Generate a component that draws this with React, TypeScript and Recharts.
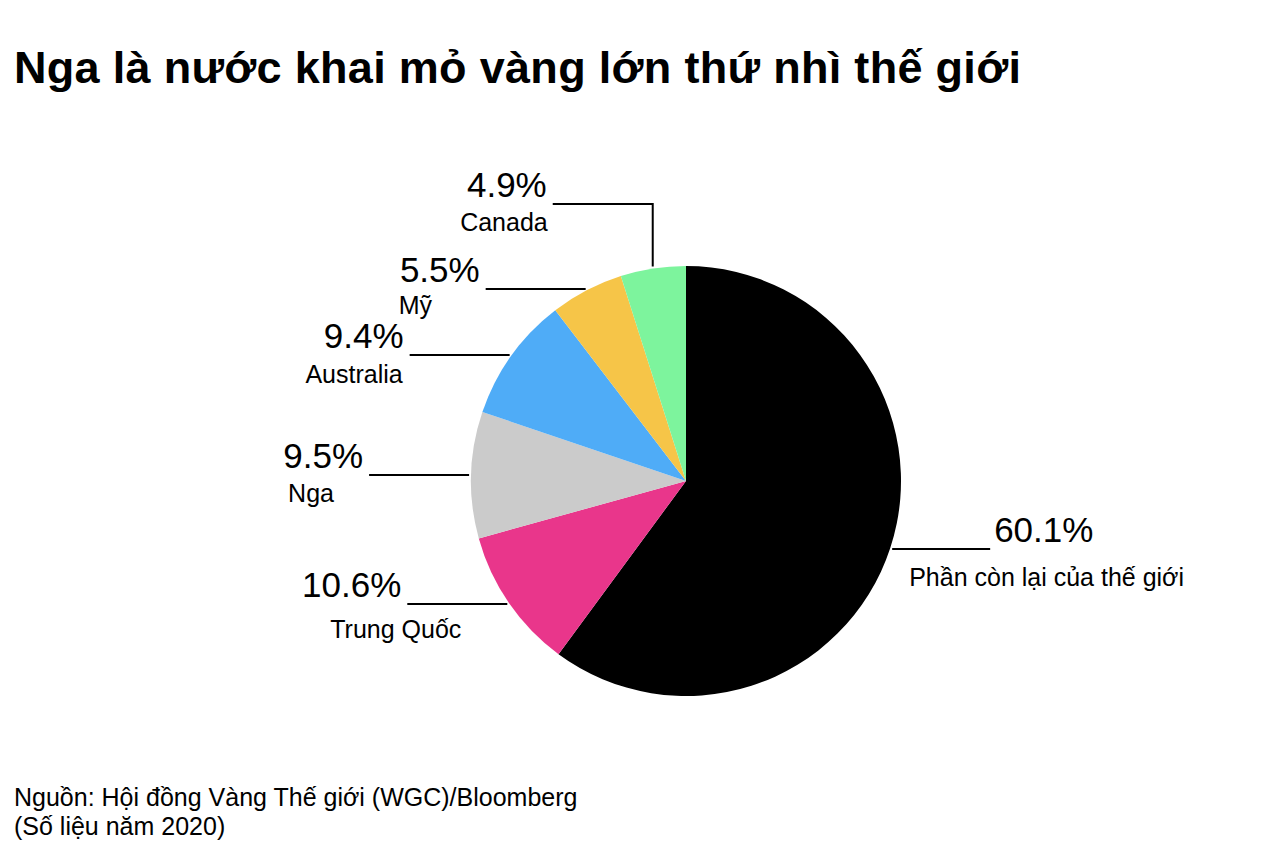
import { PieChart, Pie, Cell } from "recharts";

const regions = ["Phần còn lại của thế giới", "Trung Quốc", "Nga", "Australia", "Mỹ", "Canada"];
const shares = [60.1, 10.6, 9.5, 9.4, 5.5, 4.9];
const shareLabels = ["60.1%", "10.6%", "9.5%", "9.4%", "5.5%", "4.9%"];
const colors = ["#000000", "#E9368B", "#CBCBCB", "#4FACF7", "#F6C548", "#7DF49D"];

const data = regions.map((name, i) => ({ name, value: shares[i], label: shareLabels[i] }));

// label placement: line direction, name offset from end of line, optional elbow rise
const labelLayout = [
  { dir: 1, len: 98, rise: 0, nameDx: -81, nameDy: 37, nameAnchor: "start" },
  { dir: -1, len: 100, rise: 0, nameDx: -77, nameDy: 34, nameAnchor: "start" },
  { dir: -1, len: 100, rise: 0, nameDx: -81, nameDy: 27, nameAnchor: "start" },
  { dir: -1, len: 100, rise: 0, nameDx: -7, nameDy: 28, nameAnchor: "end" },
  { dir: -1, len: 100, rise: 0, nameDx: -87, nameDy: 25, nameAnchor: "start" },
  { dir: -1, len: 100, rise: 63, nameDx: -5, nameDy: 27, nameAnchor: "end" },
];

const RAD = Math.PI / 180;
const FONT = "'Liberation Sans', Arial, Helvetica, sans-serif";

const renderLabel = (props: any) => {
  const { cx, cy, midAngle, outerRadius, index } = props;
  const lay = labelLayout[index];
  const r = outerRadius + 2;
  const x0 = cx + r * Math.cos(-midAngle * RAD);
  const y0 = cy + r * Math.sin(-midAngle * RAD);
  const yLine = Math.round(y0 - lay.rise);
  const xEnd = x0 + lay.dir * lay.len;
  const path = lay.rise
    ? `M${x0},${y0} L${x0},${yLine} L${xEnd},${yLine}`
    : `M${x0},${yLine} L${xEnd},${yLine}`;
  return (
    <g key={`lbl-${index}`}>
      <path d={path} stroke="#000" strokeWidth={2} fill="none" />
      <text
        x={xEnd + (lay.dir > 0 ? 4 : -6)}
        y={yLine - 7}
        textAnchor={lay.dir > 0 ? "start" : "end"}
        fontFamily={FONT}
        fontSize={35}
        fill="#000"
      >
        {data[index].label}
      </text>
      <text
        x={xEnd + lay.nameDx}
        y={yLine + lay.nameDy}
        textAnchor={lay.nameAnchor as any}
        fontFamily={FONT}
        fontSize={25}
        fill="#000"
      >
        {data[index].name}
      </text>
    </g>
  );
};

export default function App() {
  return (
    <div style={{ position: "absolute", left: 0, top: 0, width: 1262, height: 848, background: "#fff", fontFamily: FONT }}>
      <div
        style={{
          position: "absolute",
          left: 14,
          top: 42,
          fontSize: 45,
          fontWeight: 700,
          letterSpacing: 0.3,
          lineHeight: "52px",
          whiteSpace: "nowrap",
        }}
      >
        Nga là nước khai mỏ vàng lớn thứ nhì thế giới
      </div>
      <PieChart
        width={1262}
        height={848}
        margin={{ top: 0, right: 0, bottom: 0, left: 0 }}
        style={{ position: "absolute", left: 0, top: 0 }}
      >
        <Pie
          data={data}
          dataKey="value"
          nameKey="name"
          cx={686}
          cy={481}
          outerRadius={215}
          startAngle={90}
          endAngle={-270}
          stroke="none"
          label={renderLabel}
          labelLine={false}
          isAnimationActive={false}
        >
          {data.map((d, i) => (
            <Cell key={d.name} fill={colors[i]} />
          ))}
        </Pie>
      </PieChart>
      <div
        style={{
          position: "absolute",
          left: 14,
          top: 783,
          fontSize: 25,
          lineHeight: "29px",
          whiteSpace: "nowrap",
        }}
      >
        <div>Nguồn: Hội đồng Vàng Thế giới (WGC)/Bloomberg</div>
        <div>(Số liệu năm 2020)</div>
      </div>
    </div>
  );
}
